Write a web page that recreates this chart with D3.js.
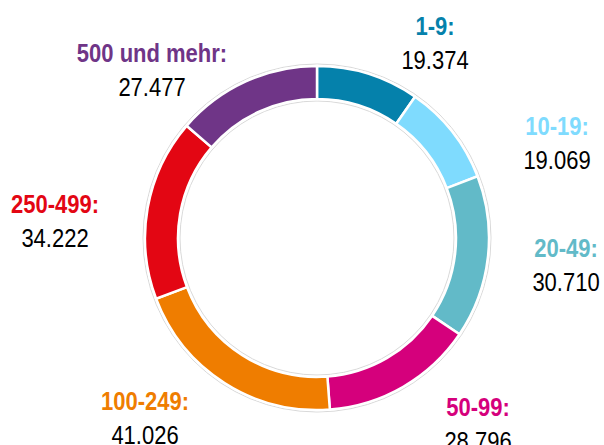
<!DOCTYPE html>
<html>
<head>
<meta charset="utf-8">
<script src="https://cdn.jsdelivr.net/npm/d3@7"></script>
<style>
  body { margin: 0; background: #fff; }
  text { font-family: "Liberation Sans Narrow", "Arial Narrow", "Liberation Sans", sans-serif; }
</style>
</head>
<body>
<script>
// Size classes and counts
var categories = ["1-9", "10-19", "20-49", "50-99", "100-249", "250-499", "500 und mehr"];
var values = [19374, 19069, 30710, 28796, 41026, 34222, 27477];
var valueLabels = ["19.374", "19.069", "30.710", "28.796", "41.026", "34.222", "27.477"];
var colors = ["#0581ab", "#7fdbfe", "#62bac8", "#d5007c", "#ef7d00", "#e30613", "#6f3587"];
// label anchor offsets from the centre (label x, baseline y of first line)
var labelPos = [[118, -203], [240, -103], [249, 19], [161, 178], [-172, 172], [-262, -25], [-165, -176]];

var width = 604, height = 445;
var cx = 317, cy = 238;
var outerR = 172, innerR = 139;

var svg = d3.select("body")
    .append("svg")
    .attr("width", width)
    .attr("height", height);

var g = svg.append("g")
    .attr("transform", "translate(" + cx + "," + cy + ")");

var pie = d3.pie()
    .sort(null)
    .value(function(d) { return d; });

var arc = d3.arc()
    .innerRadius(innerR)
    .outerRadius(outerR);

// faint outline round the ring
g.append("circle").attr("r", outerR + 2).attr("fill", "none").attr("stroke", "#d9d9d9").attr("stroke-width", 1);
g.append("circle").attr("r", innerR - 2).attr("fill", "none").attr("stroke", "#d9d9d9").attr("stroke-width", 1);

g.selectAll("path")
    .data(pie(values))
    .enter().append("path")
    .attr("d", arc)
    .attr("fill", function(d, i) { return colors[i]; })
    .attr("stroke", "#fff")
    .attr("stroke-width", 2.5);

// narrow look: squeeze the text horizontally
var labels = g.selectAll("g.lab")
    .data(categories)
    .enter().append("g")
    .attr("class", "lab")
    .attr("transform", function(d, i) { return "translate(" + labelPos[i][0] + "," + labelPos[i][1] + ") scale(0.88,1)"; });

labels.append("text")
    .attr("text-anchor", "middle")
    .attr("font-size", 25)
    .attr("font-weight", "bold")
    .attr("fill", function(d, i) { return colors[i]; })
    .text(function(d) { return d + ":"; });

labels.append("text")
    .attr("text-anchor", "middle")
    .attr("y", 34)
    .attr("font-size", 25)
    .attr("fill", "#000")
    .text(function(d, i) { return valueLabels[i]; });
</script>
</body>
</html>
